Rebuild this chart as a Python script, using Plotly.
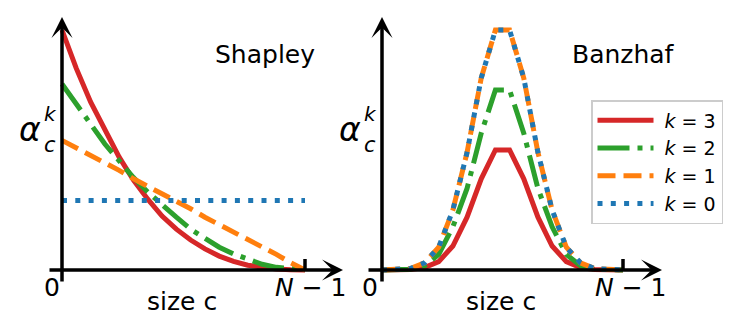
import plotly.graph_objects as go

# sizes c = 0 .. N-1 (N-1 = 17)
sizes = list(range(18))

# Shapley weights (axis units: top of red = 1)
shapley_k3 = [1.0, 0.84, 0.70, 0.58, 0.47, 0.375, 0.295, 0.225, 0.17, 0.125,
              0.088, 0.058, 0.036, 0.02, 0.01, 0.004, 0.001, 0.0]
shapley_k2 = [0.775, 0.69, 0.605, 0.525, 0.455, 0.385, 0.325, 0.27, 0.22, 0.17,
              0.13, 0.095, 0.067, 0.043, 0.024, 0.011, 0.003, 0.0]
shapley_k1 = [0.54, 0.51, 0.48, 0.445, 0.415, 0.38, 0.35, 0.32, 0.285, 0.255,
              0.22, 0.19, 0.16, 0.125, 0.095, 0.065, 0.03, 0.0]
shapley_k0 = [0.29] * 18

# Banzhaf weights
banzhaf_k3 = [0, 0, 0.002, 0.01, 0.035, 0.1, 0.22, 0.38, 0.5, 0.5,
              0.38, 0.22, 0.1, 0.035, 0.01, 0.002, 0, 0]
banzhaf_k2 = [0, 0.0005, 0.003, 0.018, 0.065, 0.18, 0.34, 0.57, 0.75, 0.75,
              0.57, 0.34, 0.18, 0.065, 0.018, 0.003, 0.0005, 0]
banzhaf_k1 = [0, 0.001, 0.006, 0.03, 0.095, 0.25, 0.49, 0.8, 1.0, 1.0,
              0.8, 0.49, 0.25, 0.095, 0.03, 0.006, 0.001, 0]
banzhaf_k0 = [0, 0.001, 0.006, 0.03, 0.095, 0.25, 0.49, 0.8, 1.0, 1.0,
              0.8, 0.49, 0.25, 0.095, 0.03, 0.006, 0.001, 0]

labels = [" <i>k</i> = 3", " <i>k</i> = 2", " <i>k</i> = 1", " <i>k</i> = 0"]
colors = ["#d62728", "#2ca02c", "#ff7f0e", "#1f77b4"]
lw = 5
dashes = ["solid", "32px,8px,5px,8px", "18px,8px", "5px,8.3px"]

# the page body has an 8px margin, so the figure is drawn 8px in from the window corner
OFF = 8
W, H = 748 - OFF, 332 - OFF
FONT = "DejaVu Sans"


def px(x):
    return (x - OFF) / W


def py(y):
    return 1 - (y - OFF) / H


fig = go.Figure()

left = [shapley_k3, shapley_k2, shapley_k1, shapley_k0]
right = [banzhaf_k3, banzhaf_k2, banzhaf_k1, banzhaf_k0]
for i in range(4):
    fig.add_trace(go.Scatter(x=sizes, y=left[i], mode="lines", showlegend=False,
                             line=dict(color=colors[i], width=lw, dash=dashes[i]),
                             xaxis="x", yaxis="y"))
for i in range(4):
    fig.add_trace(go.Scatter(x=sizes, y=right[i], mode="lines", name=labels[i],
                             line=dict(color=colors[i], width=lw, dash=dashes[i]),
                             xaxis="x2", yaxis="y2"))

# window pixels: c=0 at x=62 (left) / 382 (right), value 0 at y=270, 1 unit = 240 px
sL = 243 / 17
sR = 241 / 17
half = 374 - OFF
y0 = -(H - (270 - OFF)) / 240
y1 = y0 + H / 240
fig.update_layout(
    width=W, height=H,
    margin=dict(l=0, r=0, t=0, b=0),
    plot_bgcolor="white", paper_bgcolor="white",
    xaxis=dict(domain=[0, half / W], range=[-(62 - OFF) / sL, -(62 - OFF) / sL + half / sL],
               visible=False),
    yaxis=dict(domain=[0, 1], range=[y0, y1], visible=False),
    xaxis2=dict(domain=[half / W, 1], range=[-8 / sR, -8 / sR + (W - half) / sR], visible=False),
    yaxis2=dict(domain=[0, 1], range=[y0, y1], visible=False, anchor="x2"),
    legend=dict(x=px(591), y=py(100), xanchor="left", yanchor="top",
                bordercolor="#cccccc", borderwidth=1.5, bgcolor="rgba(255,255,255,0.8)",
                font=dict(family=FONT, size=19, color="black"), itemwidth=56,
                traceorder="normal"),
    font=dict(family=FONT, color="black"),
)

# axes drawn as arrows
for xa, ya, s in [("x", "y", sL), ("x2", "y2", sR)]:
    top = (270 - 17) / 240
    bot = (270 - 283) / 240
    xend = 281 / s if xa == "x" else 280 / s
    xstart = -14 / s if xa == "x" else -15 / s
    fig.add_annotation(x=0, y=top, ax=0, ay=bot, xref=xa, yref=ya, axref=xa, ayref=ya,
                       showarrow=True, arrowhead=3, arrowwidth=3.5, arrowsize=1.0,
                       arrowcolor="black", text="")
    fig.add_annotation(x=xend, y=0, ax=xstart, ay=0, xref=xa, yref=ya, axref=xa, ayref=ya,
                       showarrow=True, arrowhead=3, arrowwidth=3.5, arrowsize=1.0,
                       arrowcolor="black", text="")
    fig.add_shape(type="line", x0=17, x1=17, y0=0, y1=11 / 240, xref=xa, yref=ya,
                  line=dict(color="black", width=3.5))


def txt(x, y, s, size=25):
    fig.add_annotation(x=px(x), y=py(y), xref="paper", yref="paper", text=s,
                       showarrow=False, xanchor="center", yanchor="middle",
                       font=dict(family=FONT, size=size, color="black"))


txt(265, 55, "Shapley")
txt(623, 55, "Banzhaf")
for dx, nx, sx, zx in [(0, 310, 182, 52), (320, 630, 501, 370)]:
    txt(sx, 301, "size c")
    txt(zx, 287, "0")
    txt(nx, 287, "<i>N</i> − 1")
    txt(30 + dx, 129, "<i>α</i>", 33)
    txt(50.5 + dx, 114, "<i>k</i>", 20)
    txt(50 + dx, 145, "<i>c</i>", 21)

fig.write_html("out.html")
